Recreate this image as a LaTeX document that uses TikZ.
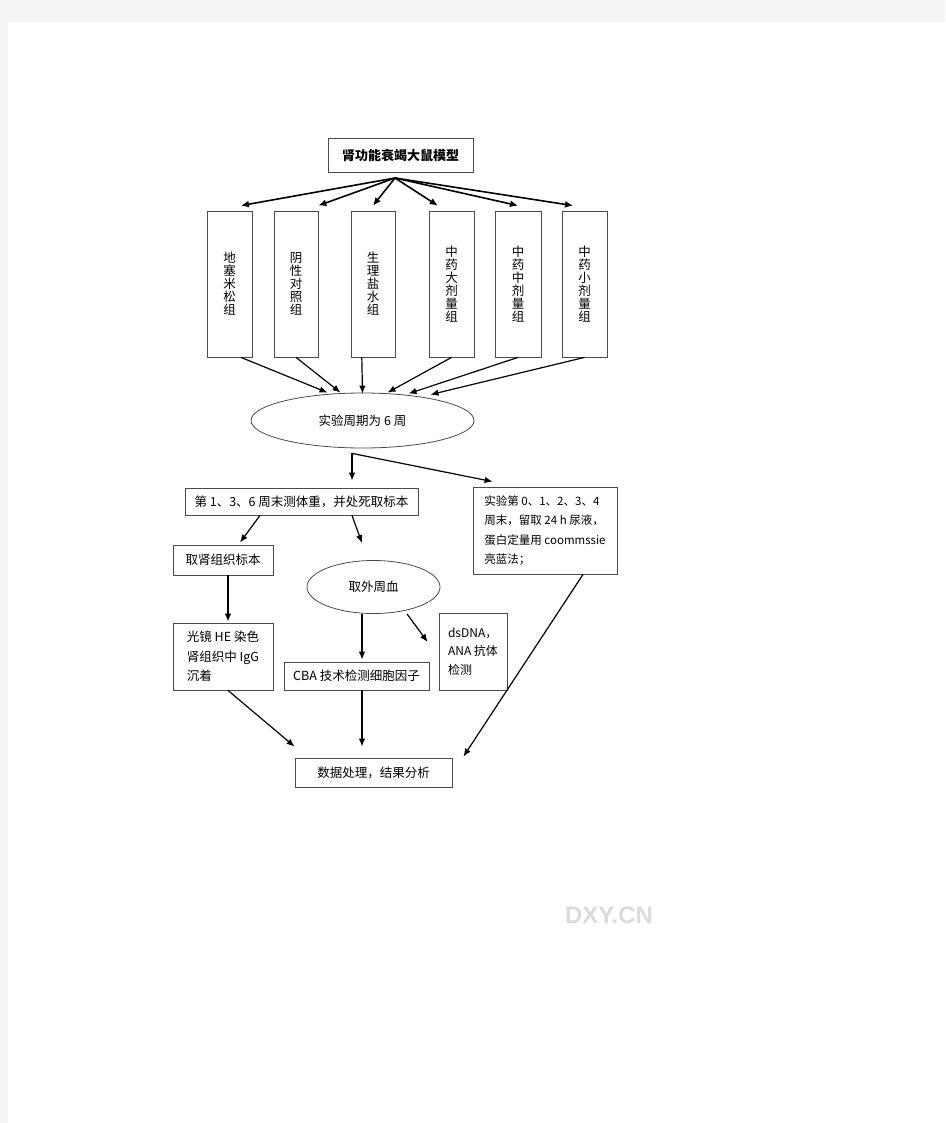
\documentclass[tikz,border=0pt]{standalone}
\usepackage{fontspec}
\setmainfont{Noto Sans CJK SC}
\newfontfamily\wmfont{Liberation Sans}
\usetikzlibrary{shapes.geometric,calc,arrows.meta}
\definecolor{pagegrey}{HTML}{F4F4F4}
\definecolor{boxline}{HTML}{4A4A4A}
\tikzstyle{box}=[draw=boxline,line width=0.8pt,inner sep=0,font=\fontsize{12.5}{13}\selectfont]
\tikzstyle{col}=[box,minimum height=146pt,align=center]
\tikzstyle{oval}=[box,ellipse]
\tikzstyle{arr}=[-{Latex[length=8pt,width=6.5pt]},line width=1.2pt]
\tikzstyle{fanarr}=[-{Latex[length=8pt,width=7pt]},line width=1.6pt]

\begin{document}
\begin{tikzpicture}[x=1pt,y=-1pt]

                        \useasboundingbox (0,0) rectangle (945,1123);
                        \fill[pagegrey] (0,0) rectangle (945,22);
                        \fill[pagegrey] (0,0) rectangle (8,1123);

                        \node[box,minimum width=145pt,minimum height=34pt,font=\fontsize{13}{13}\selectfont\bfseries] (top) at (400.5,155) {肾功能衰竭大鼠模型};
                        \coordinate (fan) at (395,178);

                        \node[col,minimum width=45pt] (b1) at (229.5,284) {地\\塞\\米\\松\\组};
                        \node[col,minimum width=44pt] (b2) at (296,284) {阴\\性\\对\\照\\组};
                        \node[col,minimum width=44pt] (b3) at (373,284) {生\\理\\盐\\水\\组};
                        \node[col,minimum width=45pt] (b4) at (451.5,284) {中\\药\\大\\剂\\量\\组};
                        \node[col,minimum width=46pt] (b5) at (518,284) {中\\药\\中\\剂\\量\\组};
                        \node[col,minimum width=45pt] (b6) at (584.5,284) {中\\药\\小\\剂\\量\\组};

                        \node[oval,minimum width=223pt,minimum height=55pt] (e) at (362.5,420.5) {实验周期为 6 周};
                        \coordinate (split) at ($(e.south)+(-10.5,5)$);

                        \node[box,minimum width=233pt,minimum height=27pt] (t1) at (301.5,501.5) {第 1、3、6 周末测体重，并处死取标本};
                        \node[box,minimum width=144pt,minimum height=87pt,align=left,font=\fontsize{11.5}{19.5}\selectfont] (r) at (545,530.5) {实验第 0、1、2、3、4\\周末，留取 24 h 尿液，\\蛋白定量用 coommssie\\亮蓝法；};

                        \node[box,minimum width=100pt,minimum height=30pt] (k) at (223,560) {取肾组织标本};
                        \node[oval,minimum width=133pt,minimum height=53pt] (bl) at (373.5,587) {取外周血};

                        \node[box,minimum width=100pt,minimum height=67pt,align=left,font=\fontsize{12.5}{19.5}\selectfont] (g) at (223,656.5) {光镜 HE 染色\\肾组织中 IgG\\沉着\hspace{3.6em}};
                        \node[box,minimum width=145pt,minimum height=28pt] (cba) at (356.5,676) {CBA 技术检测细胞因子};
                        \node[box,minimum width=68pt,minimum height=77pt,align=left,font=\fontsize{12}{18.5}\selectfont] (ds) at (473,651.5) {dsDNA，\\ANA 抗体\\检测};

                        \node[box,minimum width=157pt,minimum height=29pt] (res) at (373.5,772.5) {数据处理，结果分析};

                        \node[font=\wmfont\bfseries\fontsize{24}{24}\selectfont,text=gray!28] (wm) at (609,915) {DXY.CN};

                        \draw[fanarr] (fan) -- ($(b1.north)!0.5!(b1.north east)+(0,-5)$);
                        \draw[fanarr] (fan) -- ($(b2.north east)+(0,-5)$);
                        \draw[fanarr] (fan) -- ($(b3.north)+(0,-5)$);
                        \draw[fanarr] (fan) -- ($(b4.north west)!0.4!(b4.north)+(0,-5)$);
                        \draw[fanarr] (fan) -- ($(b5.north)+(0,-5)$);
                        \draw[fanarr] (fan) -- ($(b6.north west)!0.5!(b6.north)+(0,-5)$);

                        \draw[arr] ($(b1.south)!0.5!(b1.south east)$) -- ($(e.north)+(-35,0)$);
                        \draw[arr] (b2.south) -- ($(e.north)+(-22,0)$);
                        \draw[arr] ($(b3.south west)!0.5!(b3.south)$) -- ($(e.north)+(0,1)$);
                        \draw[arr] (b4.south) -- ($(e.north)+(25,0)$);
                        \draw[arr] (b5.south) -- ($(e.north)+(46,1)$);
                        \draw[arr] (b6.south) -- ($(e.north)+(68,2)$);
                        \draw[arr] (split) -- ($(split |- t1.north)+(0,-7)$);
                        \draw[arr] (split) -- ($(r.north west)+(20,-5)$);
                        \draw[arr] ($(t1.south)+(-41.5,0)$) -- ($(k.north)+(17,-2)$);
                        \draw[arr] ($(t1.south)+(50.5,0)$) -- ($(bl.north)+(-11.5,-17)$);
                        \draw[arr] ($(k.south)+(5,0)$) -- ($(g.north)+(5,-1)$);
                        \draw[arr] ($(bl.south)+(-11.5,0)$) -- ($(cba.north)+(5.5,-2)$);
                        \draw[arr] ($(bl.south)+(33.5,0)$) -- ($(ds.west)+(-11,-9.5)$);
                        \draw[arr] ($(g.south)+(5,0)$) -- ($(res.north west)+(0,-11)$);
                        \draw[arr] ($(cba.south)+(5.5,0)$) -- ($(res.north)+(-11.5,-11)$);
                        \draw[arr] ($(r.south)+(38,0)$) -- ($(res.north east)+(11,-1)$);

\end{tikzpicture}
\end{document}
